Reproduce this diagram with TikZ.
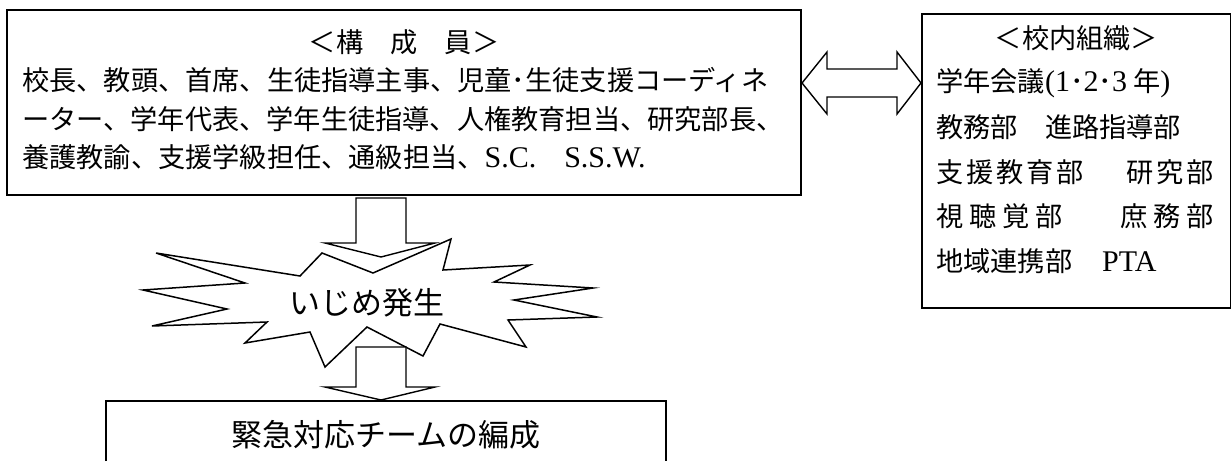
\documentclass[tikz,border=0pt]{standalone}
\usepackage{fontspec}
\setmainfont{Liberation Serif}
\newfontfamily\jp{Noto Sans CJK JP}
\newcommand{\lat}[1]{{\rmfamily\fontsize{30}{32}\selectfont #1}}
\usetikzlibrary{calc}
\begin{document}
\begin{tikzpicture}[x=1pt,y=-1pt,
  frame/.style={draw=black,line width=2pt},
  txt/.style={inner sep=0pt,font=\jp\fontsize{27.2}{30}\selectfont},
  bigtxt/.style={inner sep=0pt,font=\jp\fontsize{31}{34}\selectfont},
  blockarrow/.style={draw=black,fill=white,line width=1.4pt,line join=miter},
  burst/.style={draw=black,fill=white,line width=1.5pt,line join=miter}]
\useasboundingbox (0,0) rectangle (1231,461);

% boxes
\node[frame,anchor=north west,minimum width=794pt,minimum height=185pt,inner sep=0pt] (members) at (6,9) {};
\node[frame,anchor=north west,minimum width=309pt,minimum height=294pt,inner sep=0pt] (org) at (921,13) {};
\coordinate (teamNW) at (106,401);
\coordinate (teamNE) at (666,401);
\draw[frame] (teamNW |- 0,461) -- (teamNW) -- (teamNE) -- (teamNE |- 0,461);

% members text
\node[txt] (mtitle) at (members.north |- 0,42) {＜構　成　員＞};
\node[txt,anchor=west] (m1) at (22,80) {校長、教頭、首席、生徒指導主事、児童･生徒支援コーディネ};
\node[txt,anchor=west] (m2) at (22,119) {ーター、学年代表、学年生徒指導、人権教育担当、研究部長、};
\node[txt,anchor=west] (m3) at (22,157) {養護教諭、支援学級担任、通級担当、\lat{S.C.}\hspace{28pt}\lat{S.S.W.}};

% organisation text
\node[txt] (otitle) at (org.north |- 0,38) {＜校内組織＞};
\node[txt,anchor=west] (o1) at (936,83) {学年会議\lat{(1}･\lat{2}･\lat{3} 年\lat{)}};
\node[txt,anchor=west] (o2) at (936,127.5) {教務部　進路指導部};
\node[txt,anchor=west] (o3a) at (936,172) {\makebox[147pt][s]{支\hfil 援\hfil 教\hfil 育\hfil 部}};
\node[txt,anchor=east] (o3b) at (1214,172) {\makebox[87pt][s]{研\hfil 究\hfil 部}};
\node[txt,anchor=west] (o4a) at (936,216.5) {\makebox[126pt][s]{視\hfil 聴\hfil 覚\hfil 部}};
\node[txt,anchor=east] (o4b) at (1214,216.5) {\makebox[93pt][s]{庶\hfil 務\hfil 部}};
\node[txt,anchor=west] (o5) at (936,261) {地域連携部\hspace{30pt}\lat{PTA}};

% double arrow between boxes
\coordinate (dl) at (members.east |- 0,83);
\coordinate (dr) at (org.west |- 0,83);
\draw[blockarrow] (dl) -- ($(dl)+(25,-31)$) -- ($(dl)+(25,-14)$) -- ($(dr)+(-24,-14)$)
  -- ($(dr)+(-24,-31)$) -- (dr) -- ($(dr)+(-24,31)$) -- ($(dr)+(-24,14)$)
  -- ($(dl)+(25,14)$) -- ($(dl)+(25,31)$) -- cycle;

% burst
\draw[burst] (156,253) -- (300,276) -- (322,253) -- (373,273) -- (451,239) -- (443,270)
  -- (530,265) -- (494,282) -- (593,288) -- (514,300) -- (597,317) -- (508,320)
  -- (526,347) -- (440,324) -- (423,356) -- (367,327) -- (325,367) -- (310,332)
  -- (245,343) -- (267,322) -- (152,326) -- (227,309) -- (143,290) -- (245,283) -- cycle;
\node[bigtxt] (event) at (367,303) {いじめ発生};

% down arrows
\coordinate (a1) at (381,198);
\coordinate (a1tip) at (381,257);
\draw[blockarrow] ($(a1)+(-25,0)$) -- ($(a1)+(25,0)$) -- ($(a1tip)+(25,-14)$) -- ($(a1tip)+(54,-14)$)
  -- (a1tip) -- ($(a1tip)+(-56,-14)$) -- ($(a1tip)+(-25,-14)$) -- cycle;
\coordinate (a2) at (381,347);
\coordinate (a2tip) at (381,400);
\draw[blockarrow] ($(a2)+(-25,0)$) -- ($(a2)+(25,0)$) -- ($(a2tip)+(25,-13)$) -- ($(a2tip)+(54,-13)$)
  -- (a2tip) -- ($(a2tip)+(-56,-13)$) -- ($(a2tip)+(-25,-13)$) -- cycle;

\node[bigtxt] (team) at (386,435) {緊急対応チームの編成};
\end{tikzpicture}
\end{document}
